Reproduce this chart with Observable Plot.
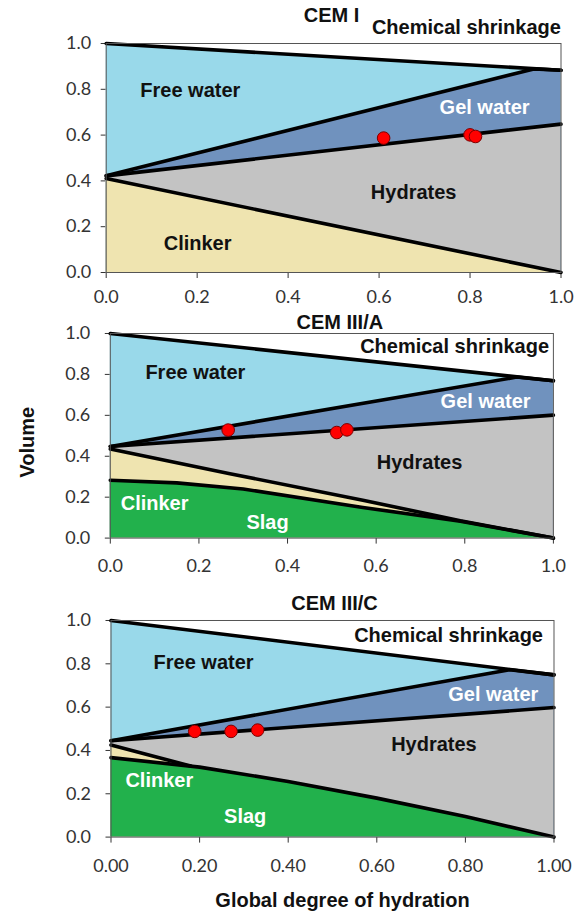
<!DOCTYPE html>
<html>
<head>
<meta charset="utf-8">
<script src="https://cdn.jsdelivr.net/npm/d3@7"></script>
<script src="https://cdn.jsdelivr.net/npm/@observablehq/plot@0.6"></script>
<style>
  html, body { margin: 0; padding: 0; background: #fff; }
  #wrap { position: relative; width: 578px; height: 912px; overflow: hidden; }
  .panel { position: absolute; left: 0; }
</style>
</head>
<body>
<div id="wrap"></div>
<script>
// ---------- DATA (x = global degree of hydration, y = volume fraction) ----------
const regionNames = ["Free water", "Gel water", "Hydrates", "Clinker", "Slag"];
const yTicks = [0, 0.2, 0.4, 0.6, 0.8, 1.0];
const xTicks = [0, 0.2, 0.4, 0.6, 0.8, 1.0];

// CEM I
const cemI_total      = [[0, 1.0], [1, 0.883]];
const cemI_gelTop     = [[0, 0.422], [0.94, 0.889], [1, 0.883]];
const cemI_hydTop     = [[0, 0.422], [1, 0.648]];
const cemI_clinkerTop = [[0, 0.41], [1, 0.0]];
const cemI_slagTop    = [];
const cemI_ptsX = [0.61, 0.80, 0.812];
const cemI_ptsY = [0.587, 0.601, 0.594];

// CEM III/A
const cemIIIA_total      = [[0, 1.0], [1, 0.769]];
const cemIIIA_gelTop     = [[0, 0.448], [0.917, 0.787], [1, 0.769]];
const cemIIIA_hydTop     = [[0, 0.448], [1, 0.601]];
const cemIIIA_clinkerTop = [[0, 0.435], [0.27, 0.315], [0.57, 0.185], [0.79, 0.085], [1, 0.0]];
const cemIIIA_slagTop    = [[0, 0.283], [0.15, 0.27], [0.3, 0.24], [0.57, 0.15], [0.79, 0.082], [1, 0.0]];
const cemIIIA_ptsX = [0.266, 0.511, 0.534];
const cemIIIA_ptsY = [0.528, 0.516, 0.529];

// CEM III/C
const cemIIIC_total      = [[0, 1.0], [1, 0.749]];
const cemIIIC_gelTop     = [[0, 0.445], [0.9, 0.773], [1, 0.749]];
const cemIIIC_hydTop     = [[0, 0.445], [1, 0.598]];
const cemIIIC_clinkerTop = [[0, 0.425], [0.18, 0.328]];
const cemIIIC_slagTop    = [[0, 0.367], [0.2, 0.323], [0.4, 0.257], [0.6, 0.18], [0.8, 0.095], [1, 0.0]];
const cemIIIC_ptsX = [0.189, 0.271, 0.331];
const cemIIIC_ptsY = [0.488, 0.488, 0.494];

// label anchors (data coordinates)
const cemI_labels = [
  ["Chemical shrinkage", 0.792, 1.069, "dark"],
  ["Free water", 0.185, 0.794, "dark"],
  ["Gel water", 0.832, 0.719, "light"],
  ["Hydrates", 0.676, 0.348, "dark"],
  ["Clinker", 0.201, 0.125, "dark"]
];
const cemIIIA_labels = [
  ["Chemical shrinkage", 0.777, 0.936, "dark"],
  ["Free water", 0.192, 0.809, "dark"],
  ["Gel water", 0.847, 0.668, "light"],
  ["Hydrates", 0.698, 0.367, "dark"],
  ["Clinker", 0.100, 0.169, "light"],
  ["Slag", 0.355, 0.076, "light"]
];
const cemIIIC_labels = [
  ["Chemical shrinkage", 0.762, 0.929, "dark"],
  ["Free water", 0.209, 0.806, "dark"],
  ["Gel water", 0.863, 0.657, "light"],
  ["Hydrates", 0.729, 0.426, "dark"],
  ["Clinker", 0.109, 0.260, "light"],
  ["Slag", 0.303, 0.094, "light"]
];

const titles = ["CEM I", "CEM III/A", "CEM III/C"];
const yLabel = "Volume";
const xLabel = "Global degree of hydration";

// ---------- STYLE ----------
const colors = {
  "Free water": "#99d9ea",
  "Gel water": "#7092be",
  "Hydrates": "#c3c3c3",
  "Clinker": "#efe4b0",
  "Slag": "#22b14c"
};
const labelFont = "'Liberation Sans', Arial, sans-serif";
const tickFont = "Lato, 'Open Sans', sans-serif";

const layouts = [
  {top: 0,   mt: 43, h: 312, ml: 105.7, mr: 17.5, xfmt: ".1f", xpad: 12, ypad: 10, titleDx: -2, titleDy: -28},
  {top: 300, mt: 33, h: 278, ml: 109.8, mr: 25.1, xfmt: ".1f", xpad: 15, ypad: 15, titleDx: 8,  titleDy: -11},
  {top: 580, mt: 40, h: 320, ml: 110.5, mr: 24.5, xfmt: ".2f", xpad: 16, ypad: 15, titleDx: 2,  titleDy: -17}
];

const panels = [
  {total: cemI_total, gelTop: cemI_gelTop, hydTop: cemI_hydTop, clinkerTop: cemI_clinkerTop, slagTop: cemI_slagTop, px: cemI_ptsX, py: cemI_ptsY, labels: cemI_labels},
  {total: cemIIIA_total, gelTop: cemIIIA_gelTop, hydTop: cemIIIA_hydTop, clinkerTop: cemIIIA_clinkerTop, slagTop: cemIIIA_slagTop, px: cemIIIA_ptsX, py: cemIIIA_ptsY, labels: cemIIIA_labels},
  {total: cemIIIC_total, gelTop: cemIIIC_gelTop, hydTop: cemIIIC_hydTop, clinkerTop: cemIIIC_clinkerTop, slagTop: cemIIIC_slagTop, px: cemIIIC_ptsX, py: cemIIIC_ptsY, labels: cemIIIC_labels}
];

const wrap = document.getElementById("wrap");

panels.forEach((p, i) => {
  const L = layouts[i];
  const plotH = i === 2 ? 216.6 : (i === 0 ? 229 : 204.6);
  const height = i === 2 ? L.mt + plotH + 83 : L.mt + plotH + 40;
  const mb = height - L.mt - plotH;
  const fx = d => d[0], fy = d => d[1];
  const bounds = [p.total, p.gelTop, p.hydTop, p.clinkerTop, p.slagTop];
  const marks = [];
  bounds.forEach((b, k) => {
    if (b.length) marks.push(Plot.areaY(b, {x: fx, y: fy, fill: colors[regionNames[k]]}));
  });
  bounds.forEach(b => {
    if (b.length) marks.push(Plot.line(b, {x: fx, y: fy, stroke: "#000", strokeWidth: 3.6, strokeLinejoin: "round"}));
  });
  marks.push(Plot.frame({stroke: "#555", strokeWidth: 1}));
  const pts = p.px.map((x, j) => [x, p.py[j]]);
  marks.push(Plot.dot(pts, {x: fx, y: fy, r: 6.3, fill: "#ff0000", stroke: "#7a0000", strokeWidth: 1}));
  marks.push(Plot.text(p.labels, {
    x: d => d[1], y: d => d[2], text: d => d[0],
    fill: d => d[3] === "light" ? "#ffffff" : "#111111",
    fontSize: 20, fontWeight: "bold", fontFamily: labelFont, textAnchor: "middle", lineAnchor: "middle"
  }));
  marks.push(Plot.text([titles[i]], {
    frameAnchor: "top", dx: L.titleDx, dy: L.titleDy, text: d => d,
    fontSize: 20, fontWeight: "bold", fontFamily: labelFont, fill: "#111", lineAnchor: "middle"
  }));
  if (i === 1) {
    marks.push(Plot.text([yLabel], {
      frameAnchor: "left", dx: -83, dy: 6.5, rotate: -90, text: d => d,
      fontSize: 20, fontWeight: "bold", fontFamily: labelFont, fill: "#111", lineAnchor: "middle", textAnchor: "middle"
    }));
  }
  if (i === 2) {
    marks.push(Plot.text([xLabel], {
      frameAnchor: "bottom", dx: 10, dy: 63.7, text: d => d,
      fontSize: 20, fontWeight: "bold", fontFamily: labelFont, fill: "#111", lineAnchor: "middle", textAnchor: "middle"
    }));
  }
  const chart = Plot.plot({
    width: 578,
    height: height,
    marginTop: L.mt,
    marginBottom: mb,
    marginLeft: L.ml,
    marginRight: L.mr,
    x: {domain: [0, 1], ticks: xTicks, tickFormat: d3.format(L.xfmt), tickSize: 6, tickPadding: L.xpad, label: null},
    y: {domain: [0, 1], ticks: yTicks, tickFormat: d3.format(".1f"), tickSize: 5, tickPadding: L.ypad, label: null},
    style: {fontFamily: tickFont, fontSize: "18px", color: "#333", background: "transparent", overflow: "visible"},
    marks
  });
  const div = document.createElement("div");
  div.className = "panel";
  div.style.top = L.top + "px";
  div.appendChild(chart);
  wrap.appendChild(div);
});
</script>
</body>
</html>
